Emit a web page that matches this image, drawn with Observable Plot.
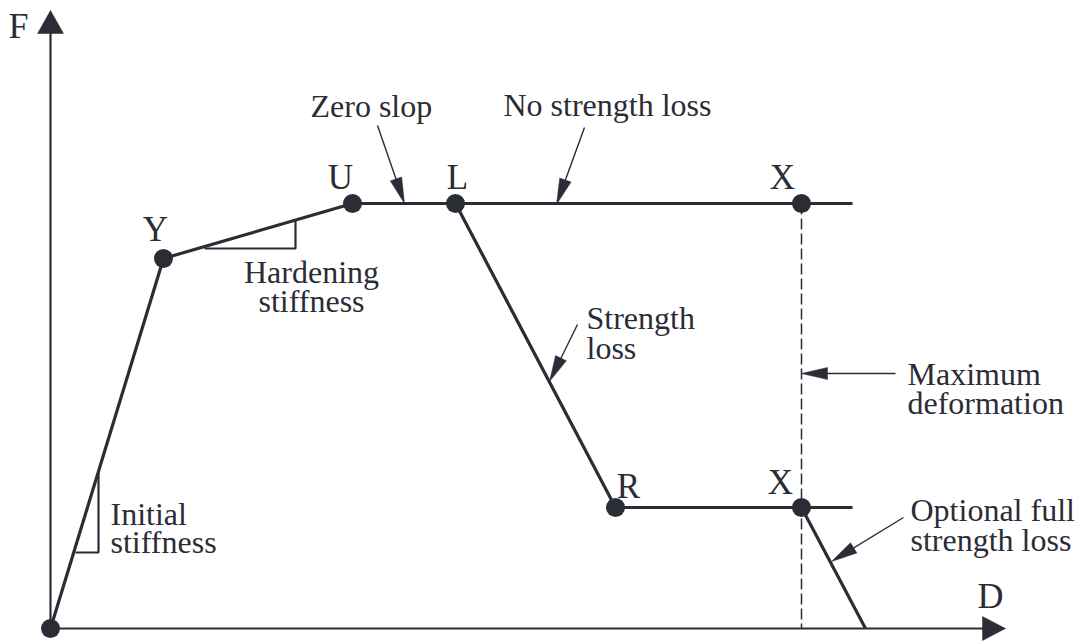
<!DOCTYPE html>
<html>
<head>
<meta charset="utf-8">
<script src="https://cdn.jsdelivr.net/npm/d3@7"></script>
<script src="https://cdn.jsdelivr.net/npm/@observablehq/plot@0.6"></script>
<style>
  html, body { margin: 0; padding: 0; background: #fff; }
  #chart svg { display: block; }
</style>
</head>
<body>
<div id="chart"></div>
<script>
// ---- Data (D = deformation, F = force, in diagram units) ----
const keyPoints = [
  {name: "O", D: 0,   F: 0},
  {name: "Y", D: 113, F: 370},
  {name: "U", D: 302, F: 425},
  {name: "L", D: 405, F: 425},
  {name: "X", D: 751, F: 425},
  {name: "R", D: 565, F: 121},
  {name: "X", D: 751, F: 121}
];

// backbone segments [from, to]
const curveSegments = [
  {D1: 0,   F1: 0,   D2: 113, F2: 370},
  {D1: 113, F1: 370, D2: 302, F2: 425},
  {D1: 302, F1: 425, D2: 802, F2: 425},
  {D1: 405, F1: 425, D2: 565, F2: 121},
  {D1: 565, F1: 121, D2: 802, F2: 121},
  {D1: 751, F1: 121, D2: 815, F2: 0}
];

// maximum deformation limit
const maxDeformation = [{D1: 751, F1: 425, D2: 751, F2: 0}];

// stiffness triangles (polylines)
const stiffnessTriangles = [
  {id: "hardening", pts: [[155, 380], [245, 380], [245, 407]]},
  {id: "initial",   pts: [[26, 76],   [48, 76],   [48, 155]]}
];

// axes [start, tip]
const axes = [
  {id: "F", D1: 0, F1: 0, D2: 0,   F2: 618, head: 23, half: 13},
  {id: "D", D1: 0, F1: 0, D2: 955, F2: 0,   head: 23, half: 12}
];

// callout leaders [text end, tip on curve]
const callouts = [
  {D1: 327, F1: 503, D2: 354, F2: 425},
  {D1: 534, F1: 501, D2: 506, F2: 424},
  {D1: 527, F1: 304, D2: 499, F2: 247},
  {D1: 845, F1: 255, D2: 751, F2: 255},
  {D1: 853, F1: 111, D2: 781, F2: 67}
];

// point labels (baseline positions)
const pointLabels = [
  {text: "F", D: -32, F: 591, size: 36},
  {text: "D", D: 940, F: 21,  size: 36},
  {text: "Y", D: 105, F: 388, size: 35},
  {text: "U", D: 290, F: 440, size: 35},
  {text: "L", D: 407, F: 440, size: 35},
  {text: "X", D: 732, F: 440, size: 35},
  {text: "R", D: 578, F: 131, size: 35},
  {text: "X", D: 730, F: 135, size: 35}
];

// annotations (baseline of last line; lines in ems)
const annotations = [
  {text: "Zero slop",                D: 260, F: 512, anchor: "start",  lh: 1},
  {text: "No strength loss",         D: 453, F: 513, anchor: "start",  lh: 1},
  {text: "Hardening\nstiffness",     D: 261, F: 317, anchor: "middle", lh: 0.88},
  {text: "Initial\nstiffness",       D: 60,  F: 76,  anchor: "start",  lh: 0.85},
  {text: "Strength\nloss",           D: 536, F: 270, anchor: "start",  lh: 0.93},
  {text: "Maximum\ndeformation",     D: 857, F: 215, anchor: "start",  lh: 0.9},
  {text: "Optional full\nstrength loss", D: 860, F: 78, anchor: "start", lh: 0.93}
];

// ---- helpers: filled arrowhead polygons from leader geometry ----
function headPolygon(d, len, half) {
  const dx = d.D2 - d.D1, dy = d.F2 - d.F1;
  const L = Math.hypot(dx, dy), ux = dx / L, uy = dy / L;
  const bx = d.D2 - ux * len, by = d.F2 - uy * len;
  return [
    [d.D2, d.F2],
    [bx - uy * half, by + ux * half],
    [bx + uy * half, by - ux * half],
    [d.D2, d.F2]
  ];
}
const heads = [];
callouts.forEach((c, i) => headPolygon(c, 26, 6).forEach(p => heads.push({id: "c" + i, D: p[0], F: p[1]})));
axes.forEach(a => headPolygon(a, a.head, a.half).forEach(p => heads.push({id: a.id, D: p[0], F: p[1]})));

const triRows = [];
stiffnessTriangles.forEach(t => t.pts.forEach(p => triRows.push({id: t.id, D: p[0], F: p[1]})));

const ink = "#2b2d36";
const font = "'Liberation Serif', 'Times New Roman', serif";

const annotationMarks = annotations.map(a =>
  Plot.text([a], {x: "D", y: "F", text: "text", fontSize: 32, textAnchor: a.anchor,
    lineAnchor: "bottom", lineHeight: a.lh, fill: ink, fontFamily: font})
);

const chart = Plot.plot({
  width: 1078,
  height: 641,
  margin: 0,
  style: {background: "#fff", fontFamily: font, color: ink},
  x: {domain: [-50, 1028], axis: null},
  y: {domain: [-13, 628], axis: null},
  marks: [
    // axes lines
    Plot.link(axes, {x1: "D1", y1: "F1", x2: d => d.id === "F" ? d.D2 : d.D2 - 20, y2: d => d.id === "F" ? d.F2 - 20 : d.F2, stroke: ink, strokeWidth: 2.2}),
    // max deformation dashed line
    Plot.link(maxDeformation, {x1: "D1", y1: "F1", x2: "D2", y2: "F2", stroke: ink, strokeWidth: 1.5, strokeDasharray: "11,4"}),
    // stiffness triangles
    Plot.line(triRows, {x: "D", y: "F", z: "id", stroke: ink, strokeWidth: 2.2, strokeLinejoin: "miter"}),
    // backbone curve
    Plot.link(curveSegments, {x1: "D1", y1: "F1", x2: "D2", y2: "F2", stroke: ink, strokeWidth: 3.2, strokeLinecap: "butt"}),
    // callout leaders
    Plot.link(callouts, {x1: "D1", y1: "F1",
      x2: d => d.D2 - (d.D2 - d.D1) / Math.hypot(d.D2 - d.D1, d.F2 - d.F1) * 5,
      y2: d => d.F2 - (d.F2 - d.F1) / Math.hypot(d.D2 - d.D1, d.F2 - d.F1) * 5,
      stroke: ink, strokeWidth: 1.4}),
    // arrowheads
    Plot.line(heads, {x: "D", y: "F", z: "id", fill: ink, stroke: ink, strokeWidth: 0.5}),
    // key points
    Plot.dot(keyPoints, {x: "D", y: "F", r: 9.5, fill: ink}),
    // point labels
    Plot.text(pointLabels, {x: "D", y: "F", text: "text", fontSize: d => d.size, textAnchor: "middle", lineAnchor: "bottom", fill: ink, fontFamily: font}),
    // annotations
    ...annotationMarks
  ]
});
document.getElementById("chart").appendChild(chart);
</script>
</body>
</html>
